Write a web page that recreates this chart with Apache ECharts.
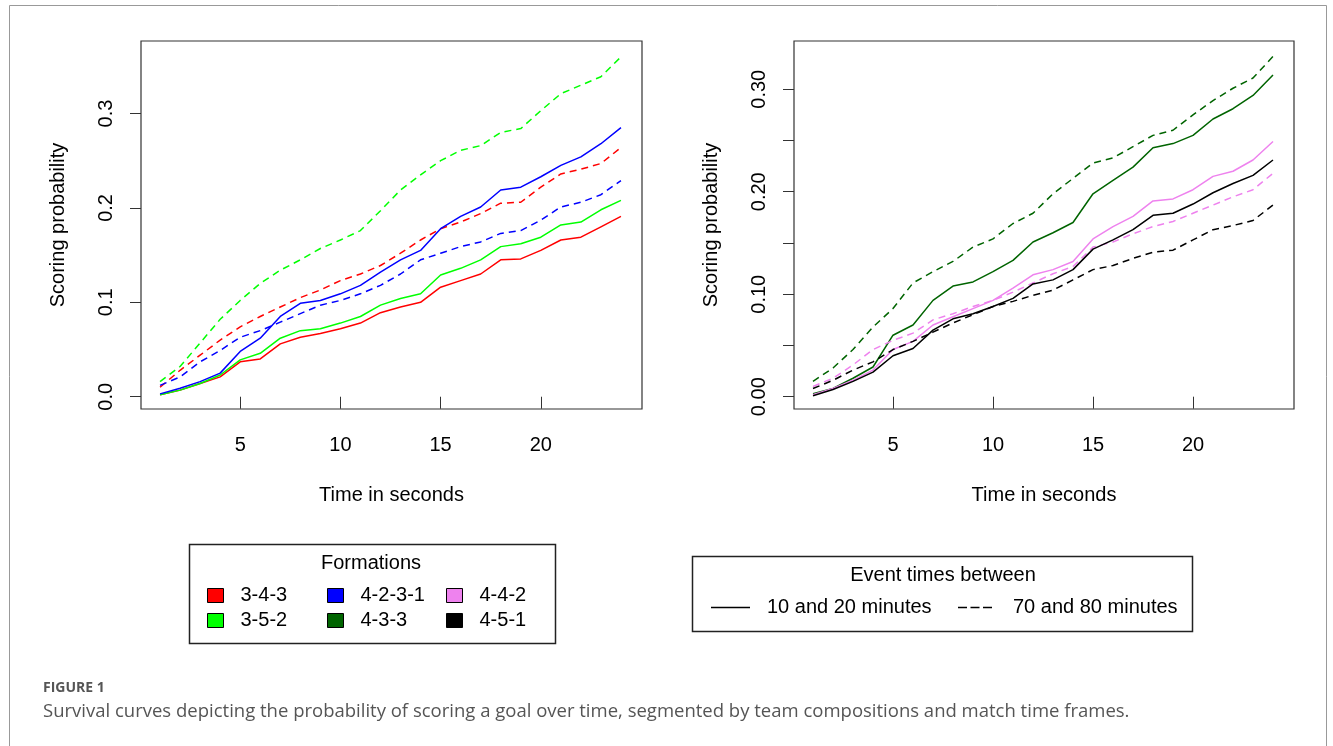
<!DOCTYPE html>
<html>
<head>
<meta charset="utf-8">
<script src="https://cdn.jsdelivr.net/npm/echarts@6.0.0/dist/echarts.min.js"></script>
<style>
	html, body { margin: 0; padding: 0; background: #fff; }
	#chart { width: 1333px; height: 746px; }
</style>
</head>
<body>
<div id="chart"></div>
<script>
// time in seconds
var times = [1,2,3,4,5,6,7,8,9,10,11,12,13,14,15,16,17,18,19,20,21,22,23,24];

var xTicks = [5,10,15,20];
var leftYTicks = [0,0.1,0.2,0.3];
var rightYTicks = [0,0.05,0.1,0.15,0.2,0.25,0.3];
var rightYLabels = [0,0.1,0.2,0.3];

// left panel: 10-20 min (Early) and 70-80 min (Late)
var f343Early = [0.002,0.007,0.014,0.021,0.037,0.040,0.056,0.063,0.067,0.072,0.078,0.089,0.095,0.100,0.116,0.123,0.130,0.145,0.146,0.155,0.166,0.169,0.180,0.191];
var f343Late = [0.010,0.028,0.044,0.060,0.074,0.085,0.095,0.105,0.113,0.123,0.130,0.139,0.152,0.166,0.178,0.185,0.194,0.205,0.206,0.222,0.236,0.241,0.247,0.264];
var f352Early = [0.002,0.007,0.014,0.023,0.039,0.046,0.062,0.070,0.072,0.078,0.085,0.097,0.104,0.109,0.129,0.136,0.145,0.159,0.162,0.169,0.182,0.185,0.198,0.208];
var f352Late = [0.016,0.032,0.057,0.082,0.102,0.120,0.134,0.145,0.157,0.166,0.176,0.197,0.219,0.235,0.250,0.261,0.266,0.280,0.284,0.303,0.321,0.330,0.339,0.360];
var f4231Early = [0.003,0.009,0.016,0.025,0.048,0.062,0.085,0.099,0.102,0.109,0.118,0.132,0.145,0.155,0.178,0.191,0.201,0.219,0.222,0.233,0.245,0.254,0.268,0.285];
var f4231Late = [0.012,0.021,0.037,0.049,0.063,0.070,0.079,0.088,0.097,0.102,0.109,0.118,0.130,0.145,0.152,0.159,0.164,0.173,0.176,0.187,0.201,0.206,0.214,0.229];

// right panel
var f433Early = [0.003,0.008,0.018,0.029,0.060,0.070,0.094,0.108,0.112,0.122,0.133,0.151,0.160,0.170,0.198,0.211,0.224,0.243,0.247,0.255,0.271,0.281,0.294,0.314];
var f433Late = [0.015,0.028,0.046,0.068,0.086,0.111,0.122,0.132,0.146,0.154,0.169,0.179,0.198,0.213,0.228,0.233,0.244,0.255,0.260,0.275,0.289,0.301,0.311,0.332];
var f442Early = [0.002,0.008,0.016,0.026,0.046,0.054,0.070,0.078,0.086,0.094,0.106,0.119,0.124,0.132,0.154,0.166,0.176,0.191,0.193,0.202,0.215,0.220,0.231,0.249];
var f442Late = [0.010,0.018,0.031,0.046,0.055,0.062,0.075,0.081,0.088,0.094,0.102,0.111,0.120,0.127,0.146,0.151,0.159,0.166,0.171,0.179,0.187,0.195,0.202,0.218];
var f451Early = [0.001,0.007,0.015,0.024,0.040,0.047,0.065,0.076,0.081,0.088,0.096,0.110,0.114,0.124,0.144,0.153,0.163,0.177,0.179,0.188,0.199,0.208,0.216,0.231];
var f451Late = [0.008,0.016,0.026,0.034,0.046,0.054,0.063,0.072,0.080,0.088,0.093,0.099,0.104,0.114,0.124,0.128,0.135,0.141,0.143,0.153,0.163,0.167,0.172,0.187];

var colors = {
	'3-4-3': '#ff0000',
	'3-5-2': '#00ff00',
	'4-2-3-1': '#0000ff',
	'4-3-3': '#006400',
	'4-4-2': '#ee82ee',
	'4-5-1': '#000000'
};

var FONT = '"Liberation Sans", Arial, sans-serif';
var FS = 20;
var DASH = [7, 5];

function pairs(values) {
	return times.map(function (t, i) { return [t, values[i]]; });
}

function curve(name, values, dashed, panel) {
	return {
		name: name,
		type: 'line',
		xAxisIndex: panel,
		yAxisIndex: panel,
		symbol: 'none',
		color: colors[name],
		lineStyle: { width: 1.5, color: colors[name], type: dashed ? DASH : 'solid' },
		emphasis: { disabled: true },
		data: pairs(values)
	};
}

function xAxisFor(panel) {
	return {
		type: 'value',
		gridIndex: panel,
		min: 0.05,
		max: 25.05,
		name: 'Time in seconds',
		nameLocation: 'middle',
		nameGap: 76,
		nameTextStyle: { color: '#000', fontSize: FS, fontFamily: FONT },
		axisLine: { show: false },
		axisTick: { show: true, length: 12, lineStyle: { color: '#333' }, customValues: xTicks },
		axisLabel: { color: '#000', fontSize: FS, fontFamily: FONT, margin: 26, customValues: xTicks },
		splitLine: { show: false }
	};
}

function yAxisFor(panel, min, max, ticks, labels, digits) {
	return {
		type: 'value',
		gridIndex: panel,
		min: min,
		max: max,
		name: 'Scoring probability',
		nameLocation: 'middle',
		nameGap: 73,
		nameTextStyle: { color: '#000', fontSize: FS, fontFamily: FONT },
		axisLine: { show: false },
		axisTick: { show: true, length: 11, lineStyle: { color: '#333' }, customValues: ticks },
		axisLabel: {
			color: '#000', fontSize: FS, fontFamily: FONT, rotate: 90, margin: 25,
			customValues: labels,
			formatter: function (v) { return v.toFixed(digits); }
		},
		splitLine: { show: false }
	};
}

function formationColumn(left, names) {
	return {
		left: left,
		top: 585,
		orient: 'vertical',
		padding: 0,
		itemGap: 4,
		itemWidth: 16,
		itemHeight: 14,
		selectedMode: false,
		textStyle: { color: '#000', fontSize: FS, fontFamily: FONT, lineHeight: 21, padding: [0, 0, 0, 12] },
		data: names.map(function (n) {
			return { name: n, icon: 'rect', itemStyle: { color: colors[n], borderColor: '#000', borderWidth: 1 } };
		})
	};
}

var myChart = echarts.init(document.getElementById('chart'));

var option = {
	animation: false,
	backgroundColor: '#fff',
	title: [
		{ text: 'Formations', left: 371, top: 553, textAlign: 'center', padding: 0,
			textStyle: { color: '#000', fontSize: FS, fontWeight: 'normal', fontFamily: FONT } },
		{ text: 'Event times between', left: 943, top: 565, textAlign: 'center', padding: 0,
			textStyle: { color: '#000', fontSize: FS, fontWeight: 'normal', fontFamily: FONT } },
		{ text: 'FIGURE 1', left: 43, top: 681, padding: 0,
			textStyle: { color: '#555', fontSize: 14, fontWeight: 'bold', fontFamily: '"Open Sans", sans-serif' } },
		{ text: 'Survival curves depicting the probability of scoring a goal over time, segmented by team compositions and match time frames.',
			left: 43, top: 702, padding: 0,
			textStyle: { color: '#555', fontSize: 18.5, fontWeight: 'normal', fontFamily: '"Open Sans", sans-serif' } }
	],
	grid: [
		{ left: 141, top: 41, width: 501, height: 368, show: true, borderColor: '#333', borderWidth: 1.2 },
		{ left: 794, top: 41, width: 500, height: 368, show: true, borderColor: '#333', borderWidth: 1.2 }
	],
	xAxis: [xAxisFor(0), xAxisFor(1)],
	yAxis: [
		yAxisFor(0, -0.013, 0.3768, leftYTicks, leftYTicks, 1),
		yAxisFor(1, -0.012, 0.3471, rightYTicks, rightYLabels, 2)
	],
	legend: [
		formationColumn(207, ['3-4-3', '3-5-2']),
		formationColumn(327, ['4-2-3-1', '4-3-3']),
		formationColumn(446, ['4-4-2', '4-5-1']),
		{
			left: 711, top: 597, padding: 0, itemWidth: 39, itemHeight: 14, selectedMode: false,
			textStyle: { color: '#000', fontSize: FS, fontFamily: FONT, lineHeight: 21, padding: [0, 0, 0, 12] },
			data: [{ name: '10 and 20 minutes', icon: 'path://M0,0h39v1.5h-39z', itemStyle: { color: '#000' } }]
		},
		{
			left: 958, top: 597, padding: 0, itemWidth: 34, itemHeight: 14, selectedMode: false,
			textStyle: { color: '#000', fontSize: FS, fontFamily: FONT, lineHeight: 21, padding: [0, 0, 0, 16] },
			data: [{ name: '70 and 80 minutes', icon: 'path://M0,0h9v1.5h-9zM12.5,0h9v1.5h-9zM25,0h9v1.5h-9z', itemStyle: { color: '#000' } }]
		}
	],
	graphic: [
		{ type: 'rect', shape: { x: 9.5, y: 5.5, width: 1317, height: 760 }, style: { fill: 'none', stroke: '#999', lineWidth: 1 }, silent: true },
		{ type: 'rect', shape: { x: 189.5, y: 544.5, width: 366, height: 99 }, style: { fill: 'none', stroke: '#222', lineWidth: 1.5 }, silent: true },
		{ type: 'rect', shape: { x: 692.5, y: 556.5, width: 500, height: 75 }, style: { fill: 'none', stroke: '#222', lineWidth: 1.5 }, silent: true }
	],
	series: [
		curve('3-4-3', f343Early, false, 0),
		curve('3-4-3', f343Late, true, 0),
		curve('3-5-2', f352Early, false, 0),
		curve('3-5-2', f352Late, true, 0),
		curve('4-2-3-1', f4231Early, false, 0),
		curve('4-2-3-1', f4231Late, true, 0),
		curve('4-3-3', f433Early, false, 1),
		curve('4-3-3', f433Late, true, 1),
		curve('4-4-2', f442Early, false, 1),
		curve('4-4-2', f442Late, true, 1),
		curve('4-5-1', f451Early, false, 1),
		curve('4-5-1', f451Late, true, 1),
		// only used by the time frame legend
		{ name: '10 and 20 minutes', type: 'line', xAxisIndex: 1, yAxisIndex: 1, color: '#000', symbol: 'none', data: [] },
		{ name: '70 and 80 minutes', type: 'line', xAxisIndex: 1, yAxisIndex: 1, color: '#000', symbol: 'none', lineStyle: { type: DASH }, data: [] }
	]
};

myChart.setOption(option);
</script>
</body>
</html>
